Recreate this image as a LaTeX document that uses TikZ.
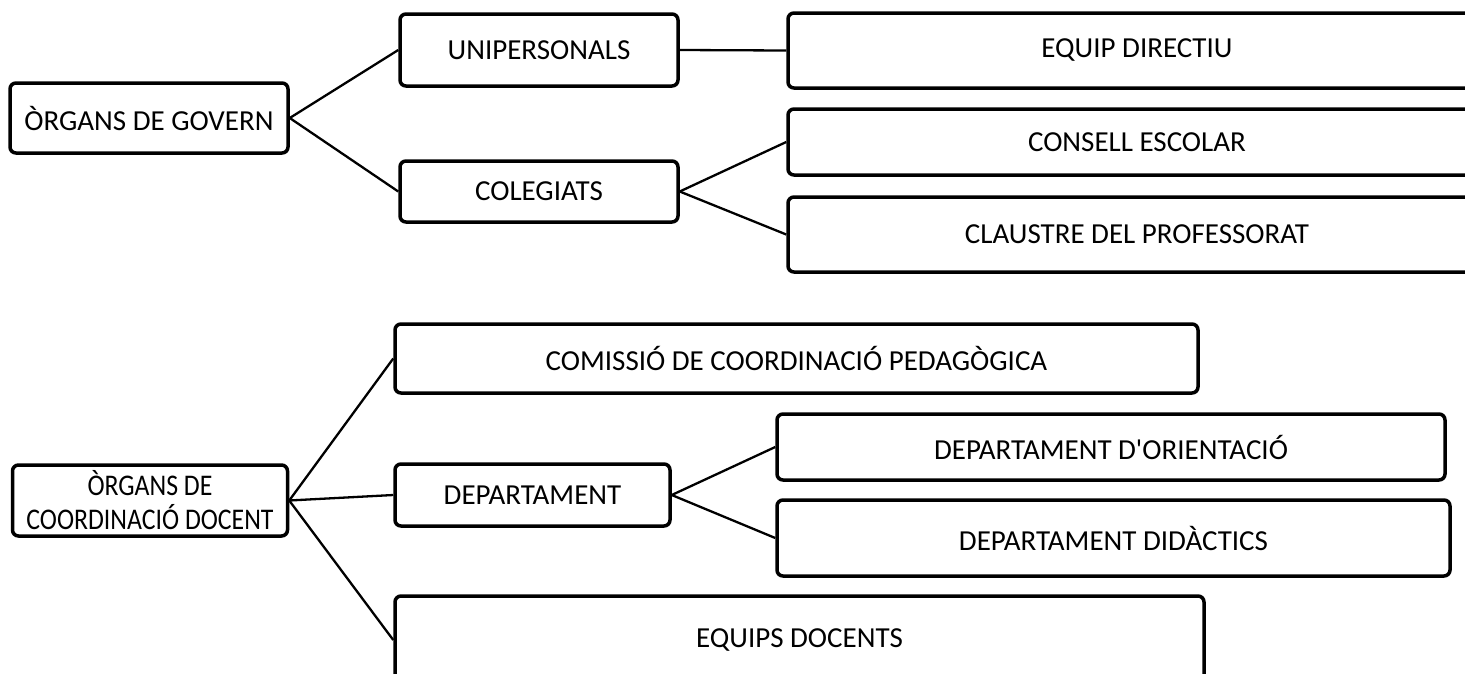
\documentclass[tikz,border=0pt]{standalone}
\usepackage{fontspec}
\setmainfont{Carlito}[Ligatures=TeXOff]
\newfontfamily\condfont{Carlito}[FakeStretch=0.86,Ligatures=TeXOff]
\begin{document}
\begin{tikzpicture}[x=1pt,y=-1pt,
  box/.style={draw=black,line width=3.5pt,rounded corners=6pt,inner sep=0pt,align=center,
    font=\fontsize{29}{34}\selectfont},
  link/.style={draw=black,line width=2.3pt}]
\clip (0,0) rectangle (1465,673);
\fill[white] (0,0) rectangle (1465,673);
\node[box,minimum width=278,minimum height=70] (gov) at (149,118) {ÒRGANS DE GOVERN};
\node[box,minimum width=278,minimum height=72] (unip) at (539,50) {UNIPERSONALS};
\node[box,minimum width=278,minimum height=61] (coleg) at (539,191.5) {COLEGIATS};
\node[box,minimum width=698,minimum height=75] (equip) at (1137,50.5) {EQUIP DIRECTIU};
\node[box,minimum width=698,minimum height=66] (consell) at (1137,142) {CONSELL ESCOLAR};
\node[box,minimum width=698,minimum height=75] (claustre) at (1137,234.5) {CLAUSTRE DEL PROFESSORAT};
\node[box,minimum width=803,minimum height=69] (comissio) at (796.5,358.5) {COMISSIÓ DE COORDINACIÓ PEDAGÒGICA};
\node[box,minimum width=275,minimum height=71,font=\condfont\fontsize{30}{34}\selectfont] (coord) at (150,500.5) {ÒRGANS DE\\COORDINACIÓ DOCENT};
\node[box,minimum width=275,minimum height=62] (dept) at (532.5,495) {DEPARTAMENT};
\node[box,minimum width=668,minimum height=66] (orient) at (1111,447) {DEPARTAMENT D'ORIENTACIÓ};
\node[box,minimum width=673,minimum height=76] (didac) at (1113.5,538) {DEPARTAMENT DIDÀCTICS};
\node[box,minimum width=809,minimum height=88] (equips) at (799.5,640) {EQUIPS DOCENTS};
\draw[link] (gov.east) -- (unip.west);
\draw[link] (gov.east) -- (coleg.west);
\draw[link] (unip.east) -- (equip.west);
\draw[link] (coleg.east) -- (consell.west);
\draw[link] (coleg.east) -- (claustre.west);
\draw[link] (coord.east) -- (comissio.west);
\draw[link] (coord.east) -- (dept.west);
\draw[link] (coord.east) -- (equips.west);
\draw[link] (dept.east) -- (orient.west);
\draw[link] (dept.east) -- (didac.west);
\end{tikzpicture}
\end{document}
